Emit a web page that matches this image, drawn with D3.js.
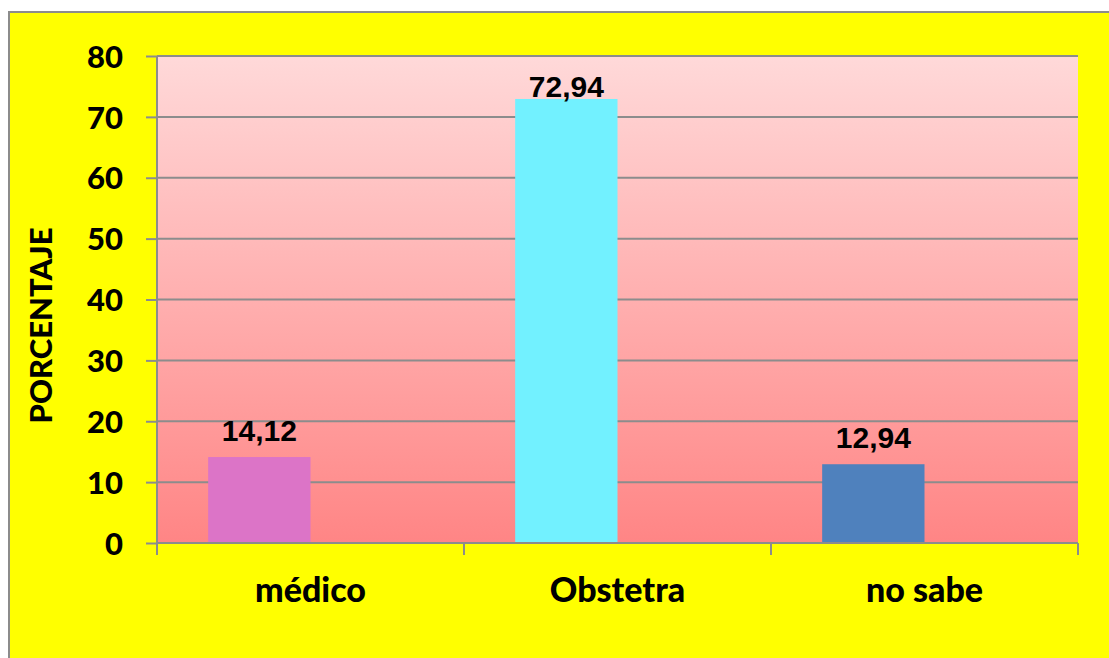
<!DOCTYPE html>
<html>
<head>
<meta charset="utf-8">
<script src="https://cdn.jsdelivr.net/npm/d3@7/dist/d3.min.js"></script>
<style>
  html, body { margin: 0; padding: 0; background: #ffffff; }
  svg { display: block; }
</style>
</head>
<body>
<svg id="chart" width="1109" height="658"></svg>
<script>
const categories = ["médico", "Obstetra", "no sabe"];
const values = [14.12, 72.94, 12.94];
const valueLabels = ["14,12", "72,94", "12,94"];
const barColors = ["#DC74C7", "#72F1FF", "#4F81BD"];
const yTicks = [0, 10, 20, 30, 40, 50, 60, 70, 80];
const yTitle = "PORCENTAJE";

const W = 1109, H = 658;
const plot = { left: 157, top: 56, right: 1078, bottom: 543 };
const svg = d3.select("#chart");

const defs = svg.append("defs");
const grad = defs.append("linearGradient").attr("id", "bg").attr("x1", 0).attr("y1", 0).attr("x2", 0).attr("y2", 1);
grad.append("stop").attr("offset", "0%").attr("stop-color", "#FFD9D9");
grad.append("stop").attr("offset", "100%").attr("stop-color", "#FF8585");

// chart area
svg.append("rect").attr("x", 9).attr("y", 12).attr("width", 1200).attr("height", 700)
  .attr("fill", "#FFFF00").attr("stroke", "#8C8C8C").attr("stroke-width", 2);

const x = d3.scaleBand().domain(categories).range([plot.left, plot.right]).padding(0);
const sub = d3.scaleBand().domain(["s1", "s2"]).range([0, x.bandwidth()]).paddingInner(0).paddingOuter(0.5);
const y = d3.scaleLinear().domain([0, 80]).range([plot.bottom, plot.top]);

svg.append("rect").attr("x", plot.left).attr("y", plot.top)
  .attr("width", plot.right - plot.left).attr("height", plot.bottom - plot.top)
  .attr("fill", "url(#bg)");

// gridlines
svg.append("g").selectAll("line").data(yTicks.filter(d => d > 0)).join("line")
  .attr("x1", plot.left).attr("x2", plot.right)
  .attr("y1", d => y(d)).attr("y2", d => y(d))
  .attr("stroke", "#8C8C8C").attr("stroke-width", 2);

// bars
svg.append("g").selectAll("rect").data(categories).join("rect")
  .attr("x", (d) => x(d) + sub("s1"))
  .attr("width", sub.bandwidth())
  .attr("y", (d, i) => y(values[i]))
  .attr("height", (d, i) => y(0) - y(values[i]))
  .attr("fill", (d, i) => barColors[i]);

// y axis
const yAxis = d3.axisLeft(y).tickValues(yTicks).tickSize(11).tickPadding(23).tickFormat(d3.format("d"));
const gy = svg.append("g").attr("transform", `translate(${plot.left},0)`).call(yAxis);
gy.select(".domain").attr("stroke", "#8C8C8C").attr("stroke-width", 2).attr("d", `M0,${plot.top}V${plot.bottom}`);
gy.selectAll(".tick line").attr("stroke", "#8C8C8C").attr("stroke-width", 2);
gy.selectAll(".tick text").attr("fill", "#000").attr("font-family", "Lato, sans-serif")
  .attr("font-weight", 900).attr("font-size", 31).attr("dy", "0.36em");

// x axis
const xAxis = d3.axisBottom(x).tickSize(0).tickPadding(35);
const gx = svg.append("g").attr("transform", `translate(0,${plot.bottom})`).call(xAxis);
gx.select(".domain").attr("stroke", "#8C8C8C").attr("stroke-width", 2).attr("d", `M${plot.left},0H${plot.right}`);
gx.selectAll(".tick text").attr("fill", "#000").attr("font-family", "Lato, sans-serif")
  .attr("font-weight", 900).attr("font-size", 34);
// category boundary ticks
const bounds = categories.map(c => x(c)).concat([plot.right]);
gx.append("g").selectAll("line").data(bounds).join("line")
  .attr("x1", d => d).attr("x2", d => d).attr("y1", 0).attr("y2", 12)
  .attr("stroke", "#8C8C8C").attr("stroke-width", 2);

// value labels
svg.append("g").selectAll("text").data(categories).join("text")
  .attr("x", d => x(d) + sub("s1") + sub.bandwidth() / 2)
  .attr("y", (d, i) => Math.max(y(values[i]) - 16, plot.top + 41))
  .attr("text-anchor", "middle")
  .attr("font-family", "'Liberation Sans', Arial, sans-serif")
  .attr("font-weight", "bold").attr("font-size", 30)
  .attr("fill", "#000")
  .text((d, i) => valueLabels[i]);

// y title
svg.append("text")
  .attr("transform", `translate(52,${(plot.top + plot.bottom) / 2 + 26}) rotate(-90)`)
  .attr("text-anchor", "middle")
  .attr("font-family", "Lato, sans-serif").attr("font-weight", 900).attr("font-size", 31)
  .attr("fill", "#000")
  .text(yTitle);
</script>
</body>
</html>
